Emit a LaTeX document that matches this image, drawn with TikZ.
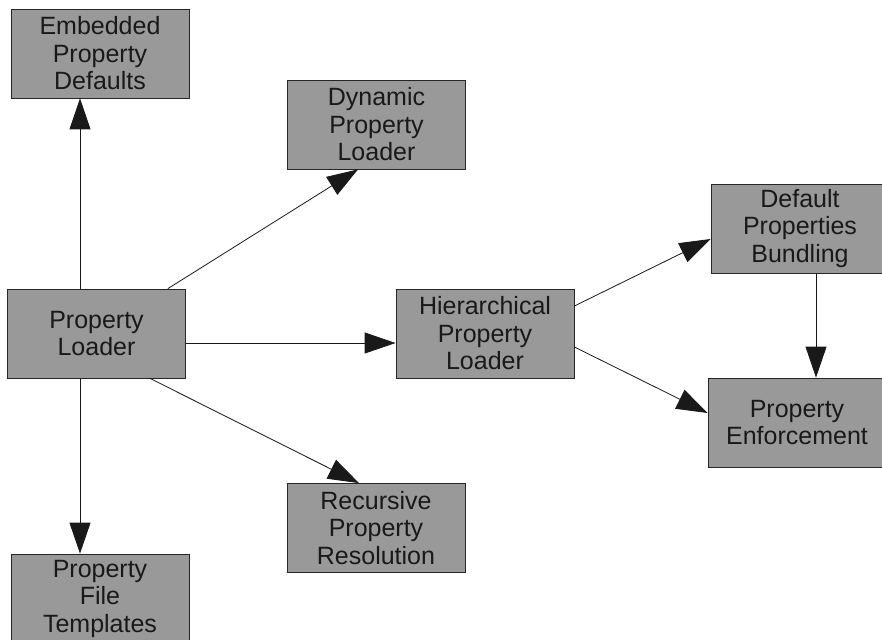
\documentclass[tikz,border=0pt]{standalone}
\usepackage{fontspec}
\setmainfont{Liberation Sans}
\usetikzlibrary{arrows.meta}
\definecolor{boxgray}{RGB}{153,153,153}

\begin{document}
\begin{tikzpicture}[x=1pt, y=-1pt, >={Triangle[length=31pt, width=21pt]},
    font=\fontsize{25}{27.5}\selectfont,
    box/.style={draw=black!85, fill=boxgray, line width=0.8pt, text=black!90,
      minimum width=178pt, minimum height=89pt, inner sep=0pt, align=center},
    link/.style={->, line width=0.8pt, black!90}]

    \useasboundingbox (0,0) rectangle (882,639);

    % --- Left column ---
    \node[box] (emb) at (100,53.5) {Embedded\\Property\\Defaults};
    \node[box] (pl) at (96.5,333.5) {Property\\Loader};
    \node[box] (tmpl) at (100,598.5) {Property\\File\\Templates};

    % --- Middle column ---
    \node[box] (dyn) at (376.5,124.5) {Dynamic\\Property\\Loader};
    \node[box] (hier) at (485,333.5) {Hierarchical\\Property\\Loader};
    \node[box] (rec) at (376,528) {Recursive\\Property\\Resolution};

    % --- Right column (cut at the page edge) ---
    \node[box] (def) at (800,228.5) {Default\\Properties\\Bundling};
    \node[box] (enf) at (797,422.5) {Property\\Enforcement};

    % --- Links out of the property loader ---
    \draw[link] ([xshift=-16.5pt]pl.north) -- ([xshift=-20pt]emb.south);
    \draw[link] ([xshift=-16.5pt]pl.south) -- ([xshift=-20pt]tmpl.north);
    \draw[link] ([xshift=-18pt]pl.north east) -- ([xshift=-18.5pt]dyn.south);
    \draw[link] ([yshift=-9.5pt]pl.east) -- ([yshift=-9.5pt]hier.west);
    \draw[link] ([xshift=53.5pt]pl.south) -- ([xshift=-17pt]rec.north);

    % --- Links on the right ---
    \draw[link] ([yshift=27.5pt]hier.east) -- ([yshift=-10.5pt]def.west);
    \draw[link] ([yshift=-13.5pt]hier.east) -- ([yshift=9.5pt]enf.west);
    \draw[link] ([xshift=16pt]def.south) -- ([xshift=19pt]enf.north);

\end{tikzpicture}
\end{document}
